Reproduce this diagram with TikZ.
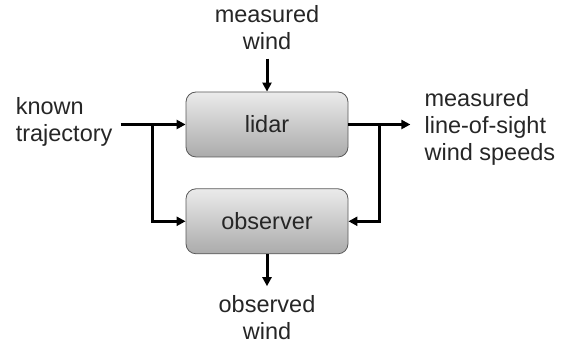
\documentclass[tikz,border=0pt]{standalone}
\usepackage{fontspec}
\setmainfont{Liberation Sans}
\usetikzlibrary{positioning,calc,arrows.meta}

\begin{document}
\begin{tikzpicture}[>={Triangle[length=9pt,width=9pt]}, x=1pt, y=1pt]
        % Style definitions
        \tikzset{
            block/.style={draw=black!65, line width=0.8pt, rectangle, rounded corners=10pt, minimum width=162pt, minimum height=65pt, top color=black!8, bottom color=black!33, align=center, font=\fontsize{23.5}{27}\selectfont, text=black!85},
            label/.style={align=left, inner sep=0pt, font=\fontsize{23.5}{27}\selectfont, text=black!85},
            conn/.style={line width=3pt},
            coord/.style={coordinate}
        }
        \useasboundingbox (0,0) rectangle (571,347);

        % Blocks
        \node [block] (lidar) at (267,222.5) {lidar};
        \node [block, below=31pt of lidar] (observer) {observer};

        % Free ends and split points
        \coordinate (in) at ($(lidar.west)+(-65,0)$);
        \coordinate (split_in) at ($(lidar.west)+(-33,0)$);
        \coordinate (out) at ($(lidar.east)+(62,0)$);
        \coordinate (split_out) at ($(lidar.east)+(31,0)$);
        \coordinate (wind) at ($(lidar.north)+(0,33)$);
        \coordinate (est) at ($(observer.south)+(0,-32)$);

        % Labels
        \node [label, left=8pt of in, yshift=3pt] (traj) {known\\trajectory};
        \node [label, right=14pt of out, yshift=-3pt] (los) {measured\\line-of-sight\\wind speeds};
        \node [label, align=center, above=9pt of wind] (meas) {measured\\wind};
        \node [label, align=center, below=9pt of est] (obs) {observed\\wind};

        % Connections
        \draw [conn, ->] (in) -- (lidar.west);
        \draw [conn, ->] (split_in) |- (observer.west);
        \draw [conn, ->] (lidar.east) -- (out);
        \draw [conn, ->] (split_out) |- (observer.east);
        \draw [conn, ->] (wind) -- (lidar.north);
        \draw [conn, ->] (observer.south) -- (est);
    \end{tikzpicture}
\end{document}
